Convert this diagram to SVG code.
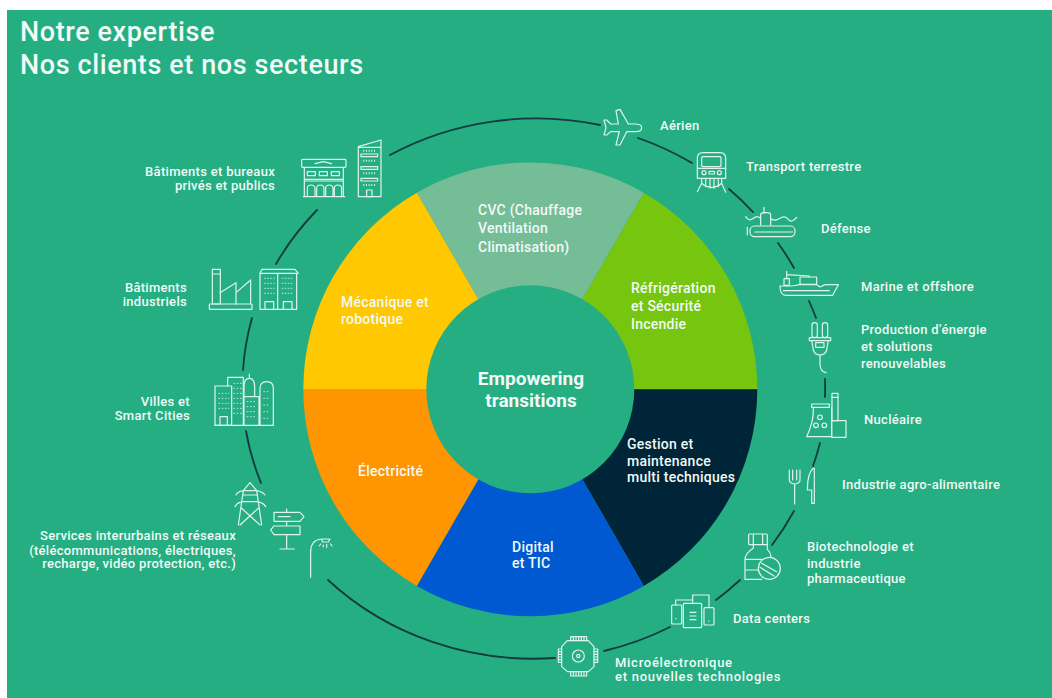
<svg xmlns="http://www.w3.org/2000/svg" width="1052" height="698" viewBox="0 0 1052 698">
<style>
text{font-family:Roboto,"Liberation Sans",sans-serif;fill:#f1faf6;font-weight:500;font-size:13px;letter-spacing:.3px}
.title{font-size:27px;font-weight:500;letter-spacing:.6px}
.sec{font-size:14px;letter-spacing:.25px}
.hub{font-size:19px;font-weight:700;text-anchor:middle;letter-spacing:0}
.end{text-anchor:end}
.wide{letter-spacing:.72px}
.ic{fill:none;stroke:#dff4ec;stroke-width:3.6;stroke-linecap:round;stroke-linejoin:round}
.arc{fill:none;stroke:#143a40;stroke-width:1.8;stroke-linecap:round}
</style>
<rect x="7" y="10" width="1045" height="688" fill="#24ae82"/>
<g id="title"><text class="title" x="20" y="41">Notre expertise</text><text class="title" x="20" y="74">Nos clients et nos secteurs</text></g>
<g id="connectors">
<path class="arc" d="M390 155A291.5 271 0 0 1 600 125"/>
<path class="arc" d="M638 138A291.5 271 0 0 1 692 163"/>
<path class="arc" d="M729 189A291.5 271 0 0 1 753 212"/>
<path class="arc" d="M778 243A291.5 271 0 0 1 794 268"/>
<path class="arc" d="M809 301A291.5 271 0 0 1 816 318"/>
<path class="arc" d="M825 379A291.5 271 0 0 1 825 397"/>
<path class="arc" d="M820 443A291.5 271 0 0 1 813 466"/>
<path class="arc" d="M794 511A291.5 271 0 0 1 772 545"/>
<path class="arc" d="M740 580A291.5 271 0 0 1 716 600"/>
<path class="arc" d="M670 627A291.5 271 0 0 1 604 651"/>
<path class="arc" d="M555 658A291.5 271 0 0 1 328 580"/>
<path class="arc" d="M261 483A291.5 271 0 0 1 246 431"/>
<path class="arc" d="M243 370A291.5 271 0 0 1 252 318"/>
<path class="arc" d="M276 264A291.5 271 0 0 1 317 210"/>
</g>
<g id="wheel">
<g id="sector-cvc"><path d="M416.8 192.8A227 227 0 0 1 643.8 192.8L530.3 389.3Z" fill="#74bd96"/><text class="sec" x="478" y="215">CVC (Chauffage</text><text class="sec" x="478" y="233">Ventilation</text><text class="sec" x="478" y="252">Climatisation)</text></g>
<g id="sector-refrigeration"><path d="M643.8 192.8A227 227 0 0 1 757.3 389.3H530.3Z" fill="#76c50f"/><text class="sec" x="631" y="293">Réfrigération</text><text class="sec" x="631" y="311">et Sécurité</text><text class="sec" x="631" y="329">Incendie</text></g>
<g id="sector-gestion"><path d="M757.3 389.3A227 227 0 0 1 643.8 585.9L530.3 389.3Z" fill="#002538"/><text class="sec" x="627" y="449">Gestion et</text><text class="sec" x="627" y="466">maintenance</text><text class="sec" x="627" y="482">multi techniques</text></g>
<g id="sector-digital"><path d="M643.8 585.9A227 227 0 0 1 416.8 585.9L530.3 389.3Z" fill="#0059d0"/><text class="sec" x="512" y="552">Digital</text><text class="sec" x="512" y="568">et TIC</text></g>
<g id="sector-electricite"><path d="M416.8 585.9A227 227 0 0 1 303.3 389.3H530.3Z" fill="#ff9500"/><text class="sec" x="358" y="476">Électricité</text></g>
<g id="sector-mecanique"><path d="M303.3 389.3A227 227 0 0 1 416.8 192.8L530.3 389.3Z" fill="#ffc800"/><text class="sec" x="341" y="307">Mécanique et</text><text class="sec" x="341" y="324">robotique</text></g>
<g id="hub"><circle cx="530.3" cy="389.3" r="104" fill="#24ae82"/><text class="hub" x="531" y="385">Empowering</text><text class="hub" x="531" y="407">transitions</text></g>
</g>
<g id="node-aerien"><g class="ic" transform="translate(590 100) scale(.3333)"><path d="M155 83Q155 72 135 72H115L90 28 78 32 85 72H62L50 60H42L48 83 42 105H50L62 95H88L78 135H90L110 95H135Q155 95 155 83Z"/></g><text x="660" y="130">Aérien</text></g>
<g id="node-transport"><g class="ic" transform="translate(590 100) scale(.3333)"><path d="M322 235V175Q322 158 340 158H390Q407 158 407 175V235Z"/><rect x="335" y="170" width="58" height="30" rx="4"/><path d="M322 205H407"/><circle cx="342" cy="218" r="6"/><circle cx="388" cy="218" r="6"/><rect x="357" y="214" width="16" height="8"/><path d="M335 237V252M347 237V260M360 237V265M372 237V265M385 237V260M395 237V252M335 250Q365 275 395 250M335 250 322 275M395 250 407 277"/></g><text x="746" y="171">Transport terrestre</text></g>
<g id="node-defense"><g class="ic" transform="translate(590 100) scale(.3333)"><rect x="480" y="378" width="135" height="32" rx="14"/><path d="M495 396H608M472 382V405M522 322V340"/><path d="M512 375V345Q512 338 522 338H532Q542 338 542 345V375"/><path d="M467 350Q477 366 490 355T512 356M542 356Q555 365 570 355T595 358 620 352"/></g><text x="821" y="233">Défense</text></g>
<g id="node-marine"><g class="ic" transform="translate(770 262) scale(.3333)"><path d="M30 72H65L90 68H140L150 75 165 68H205L188 100H48Q30 100 30 72Z"/><path d="M40 86H178"/><rect x="90" y="45" width="50" height="22"/><rect x="42" y="50" width="16" height="20"/><path d="M50 28V50M50 38 118 42V45"/></g><text x="861" y="291">Marine et offshore</text></g>
<g id="node-energie"><g class="ic" transform="translate(770 300) scale(.3333)"><rect x="126" y="68" width="16" height="45" rx="8"/><rect x="157" y="68" width="16" height="45" rx="8"/><rect x="118" y="113" width="64" height="9"/><path d="M125 122 130 150Q135 165 150 165T170 150L175 122"/><rect x="137" y="128" width="25" height="14"/><path d="M150 165V195Q152 215 168 218"/></g><text x="861" y="334">Production d’énergie</text><text x="861" y="351">et solutions</text><text x="861" y="368">renouvelables</text></g>
<g id="node-nucleaire"><g class="ic" transform="translate(770 300) scale(.3333)"><rect x="125" y="312" width="53" height="10"/><path d="M130 322Q132 365 110 410H185V322"/><rect x="186" y="280" width="18" height="82"/><path d="M186 292H204"/><rect x="185" y="362" width="43" height="50"/><circle cx="150" cy="352" r="7"/><circle cx="138" cy="376" r="7"/><circle cx="163" cy="376" r="7"/></g><text x="864" y="424">Nucléaire</text></g>
<g id="node-agro"><g class="ic" transform="translate(770 300) scale(.3333)"><path d="M58 510V540Q58 550 74 552 90 550 90 540V510M68 510V540M80 510V540M74 552V612"/><path d="M130 505Q112 520 112 570H125V610H133V505Z"/></g><text x="842" y="489">Industrie agro-alimentaire</text></g>
<g id="node-biotech"><g class="ic" transform="translate(540 520) scale(.3333)"><rect x="626" y="42" width="56" height="32" rx="3"/><path d="M640 44V72M668 44V72M640 74V85Q615 100 615 120V178H665M682 74V88Q695 100 692 112M615 118H665M615 150H655"/><circle cx="688" cy="145" r="33"/><path d="M665 130 710 155M660 142 702 168"/></g><text x="807" y="551">Biotechnologie et</text><text x="807" y="568">industrie</text><text x="807" y="583">pharmaceutique</text></g>
<g id="node-datacenters"><g class="ic" transform="translate(540 520) scale(.3333)"><rect x="395" y="255" width="30" height="57" rx="3"/><rect x="430" y="250" width="55" height="73" rx="3"/><rect x="492" y="263" width="30" height="52" rx="3"/><path d="M407 255V240H455M458 250V225H507V263M450 277H468M450 288H468M450 299H468M407 296H408M506 303H507"/></g><text x="733" y="623">Data centers</text></g>
<g id="node-micro"><g class="ic" transform="translate(540 520) scale(.3333)"><path d="M82 362H145L162 380V440L145 455H82L65 440V380Z"/><circle cx="115" cy="408" r="18"/><circle cx="115" cy="408" r="5"/><path d="M92 362V350M100 362V350M108 362V350M116 362V350M124 362V350M132 362V350M140 362V350M92 350H140M92 455V468M100 455V468M108 455V468M116 455V468M124 455V468M132 455V468M140 455V468M92 468H140M65 387H55M65 395H55M65 403H55M65 411H55M65 419H55M65 427H55M55 387V427M162 387H173M162 395H173M162 403H173M162 411H173M162 419H173M162 427H173M173 387V427"/></g><text class="wide" x="615" y="667">Microélectronique</text><text class="wide" x="615" y="681">et nouvelles technologies</text></g>
<g id="node-reseaux"><g class="ic" transform="translate(200 360) scale(.3333)"><path d="M150 368 130 392 115 495M150 368 170 392 185 495M108 405Q112 395 130 392H170Q188 395 195 405M105 440Q110 428 128 425H172Q190 428 197 440M128 405H172M125 445 180 495M175 445 120 495M126 425H174"/><path d="M260 447V457M260 484V498M260 524V565M240 567H283M222 457H300L312 470 300 484H222ZM300 498H222L212 510 222 524H300ZM235 470H270"/><path d="M332 652V575Q332 540 365 537M365 537H390L385 546H368ZM370 555V560M380 553V562M392 552 396 558M362 552 358 558"/></g><text class="end" x="236" y="540">Services interurbains et réseaux</text><text class="end" x="236" y="555">(télécommunications, électriques,</text><text class="end" x="236" y="568">recharge, vidéo protection, etc.)</text></g>
<g id="node-villes"><g class="ic" transform="translate(200 360) scale(.3333)"><rect x="45" y="78" width="50" height="118"/><path d="M83 78V52H130V196M132 196V80Q132 55 148 55T164 80V110M148 42V55M132 110H177V196M180 196V85Q180 65 200 65T220 85V196ZM45 196H220M60 196V170H82V196"/><path d="M55 100H88M55 115H88M55 130H88M55 145H88M100 70H126M100 85H126M100 100H126M100 115H126M100 130H126M100 145H126M100 160H126M140 125H170M140 140H170M140 155H170M140 170H170M190 95H210M190 115H210M190 135H210M190 155H210M190 175H210" stroke-dasharray="5 5" stroke-width="2.4" stroke-linecap="butt"/></g><text class="end" x="190" y="406">Villes et</text><text class="end" x="190" y="420">Smart Cities</text></g>
<g id="node-industriels"><g class="ic" transform="translate(200 130) scale(.3333)"><rect x="28" y="522" width="128" height="16" rx="2"/><rect x="37" y="418" width="24" height="104"/><path d="M37 432H61M60 488 108 458V522M108 488 152 450V522"/><path d="M180 538V430H290V538ZM180 430 186 418H285L295 430M233 430V538M195 538V515H221V538M250 538V515H276V538"/><path d="M193 445H224M193 460H224M193 475H224M193 490H224M245 445H278M245 460H278M245 475H278M245 490H278" stroke-dasharray="5 4" stroke-width="2.4" stroke-linecap="butt"/></g><text class="end" x="187" y="292">Bâtiments</text><text class="end" x="187" y="306">industriels</text></g>
<g id="node-batiments"><g class="ic" transform="translate(200 130) scale(.3333)"><rect x="305" y="88" width="133" height="24" rx="3"/><path d="M345 101 370 95 395 101"/><path d="M313 112V200H430V112M313 148H430M313 153H430M310 200H434"/><rect x="322" y="125" width="24" height="12"/><rect x="358" y="125" width="24" height="12"/><rect x="394" y="125" width="24" height="12"/><path d="M322 198V175Q322 165 333 165T345 175V198M350 198V175Q350 165 361 165T372 175V198M377 198V175Q377 165 388 165T399 175V198M403 198V175Q403 165 414 165T425 175V198"/><path d="M475 200V50L543 30V200ZM475 52H543"/><rect x="483" y="72" width="50" height="8"/><rect x="483" y="110" width="50" height="8"/><rect x="483" y="145" width="50" height="8"/><rect x="500" y="180" width="16" height="20"/><path d="M490 62H526M490 92H526M490 130H526M490 165H526" stroke-dasharray="3 5" stroke-width="6" stroke-linecap="butt"/></g><text class="end" x="275" y="176">Bâtiments et bureaux</text><text class="end" x="275" y="190">privés et publics</text></g>
</svg>
